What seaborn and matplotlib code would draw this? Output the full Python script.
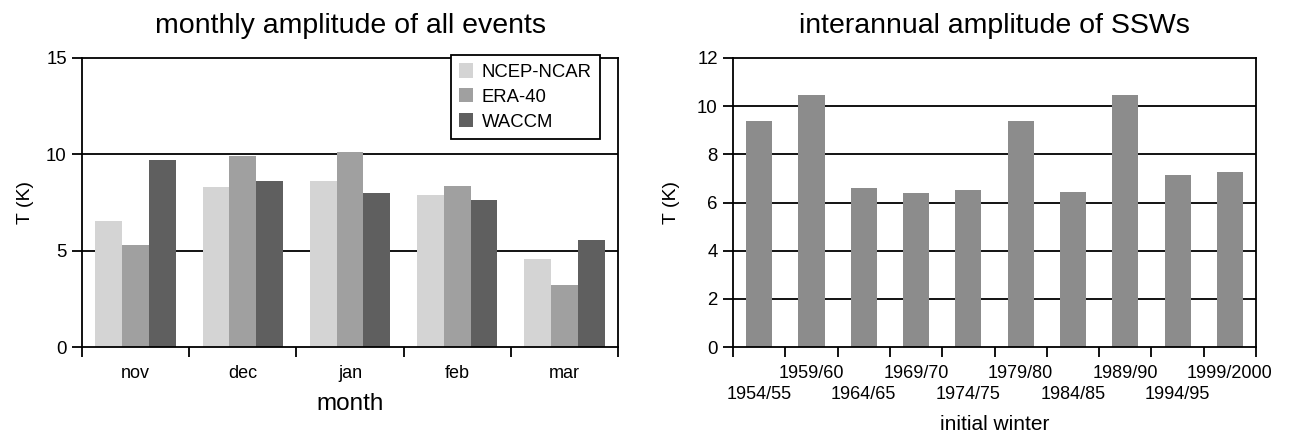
import matplotlib
matplotlib.use('Agg')
import matplotlib.pyplot as plt
import numpy as np
import pandas as pd
import seaborn as sns
from matplotlib.patches import Patch

# monthly amplitude of all events
months = ['nov', 'dec', 'jan', 'feb', 'mar']
datasets = ['NCEP-NCAR', 'ERA-40', 'WACCM']
ncep = [6.55, 8.3, 8.6, 7.9, 4.55]
era40 = [5.3, 9.9, 10.1, 8.35, 3.2]
waccm = [9.7, 8.6, 8.0, 7.65, 5.55]
colors_left = ['#d4d4d4', '#a0a0a0', '#5f5f5f']

# interannual amplitude of SSWs
winters = ['1954/55', '1959/60', '1964/65', '1969/70', '1974/75',
           '1979/80', '1984/85', '1989/90', '1994/95', '1999/2000']
amplitude = [9.4, 10.45, 6.6, 6.4, 6.5, 9.4, 6.45, 10.45, 7.15, 7.25]
color_right = '#8c8c8c'

sns.set_style('white')
plt.rcParams['font.family'] = ['Liberation Sans', 'DejaVu Sans']
plt.rcParams.update({'text.color': 'black', 'axes.labelcolor': 'black',
                     'xtick.color': 'black', 'ytick.color': 'black'})

monthly = pd.DataFrame({
    'month': np.repeat(months, 3),
    'dataset': datasets * len(months),
    'T': [v for trio in zip(ncep, era40, waccm) for v in trio],
})
yearly = pd.DataFrame({'winter': winters, 'T': amplitude})

fig = plt.figure(figsize=(12.98, 4.36), dpi=100)
ax1 = fig.add_axes([0.0632, 0.204, 0.413, 0.663])
ax2 = fig.add_axes([0.5647, 0.204, 0.403, 0.663])


def style_axes(ax, yticks, ncat):
    ax.set_ylim(yticks[0], yticks[-1])
    ax.set_yticks(yticks)
    ax.set_xlim(-0.5, ncat - 0.5)
    ax.set_xticks(np.arange(-0.5, ncat), minor=True)
    ax.tick_params(axis='x', which='major', length=0, labelsize=13, pad=13)
    ax.tick_params(axis='x', which='minor', length=7, width=1.3, direction='out', bottom=True)
    ax.tick_params(axis='y', which='major', length=7, width=1.3, direction='out', left=True,
                   labelsize=13.4, pad=4)
    for y in yticks[1:-1]:
        ax.axhline(y, color='black', lw=1.3, zorder=0)
    for s in ax.spines.values():
        s.set_color('black')
        s.set_linewidth(1.3)
    ax.set_axisbelow(True)


sns.barplot(data=monthly, x='month', y='T', hue='dataset', palette=colors_left,
            width=0.75, saturation=1, linewidth=0, ax=ax1, legend=False, zorder=2)
style_axes(ax1, [0, 5, 10, 15], len(months))
ax1.set_title('monthly amplitude of all events', fontsize=20.5, pad=18)
ax1.set_xlabel('month', fontsize=17.5, labelpad=8)
ax1.set_ylabel('T (K)', fontsize=14, labelpad=9)
handles = [Patch(facecolor=c, edgecolor='none') for c in colors_left]
leg = ax1.legend(handles, datasets, loc='upper right', bbox_to_anchor=(0.966, 1.01),
                 fontsize=13.3, frameon=True, fancybox=False, framealpha=1,
                 handlelength=0.75, handleheight=0.8, borderpad=0.45, labelspacing=0.4,
                 handletextpad=0.45, borderaxespad=0)
leg.get_frame().set_edgecolor('black')
leg.get_frame().set_linewidth(1.3)

sns.barplot(data=yearly, x='winter', y='T', color=color_right, width=0.5,
            saturation=1, linewidth=0, ax=ax2, zorder=2)
style_axes(ax2, [0, 2, 4, 6, 8, 10, 12], len(winters))
# upper row of year labels as tick labels, lower row as annotations
ax2.set_xticks(range(len(winters)))
ax2.set_xticklabels([w if i % 2 else '' for i, w in enumerate(winters)])
for i, w in enumerate(winters):
    if i % 2 == 0:
        ax2.annotate(w, xy=(i, 0), xycoords=('data', 'axes fraction'),
                     xytext=(0, -34.5), textcoords='offset points',
                     ha='center', va='center', fontsize=13)
ax2.set_title('interannual amplitude of SSWs', fontsize=20.5, pad=18)
ax2.set_xlabel('initial winter', fontsize=15, labelpad=24)
ax2.set_ylabel('T (K)', fontsize=14, labelpad=12)

fig.savefig('out.png', dpi=100)
